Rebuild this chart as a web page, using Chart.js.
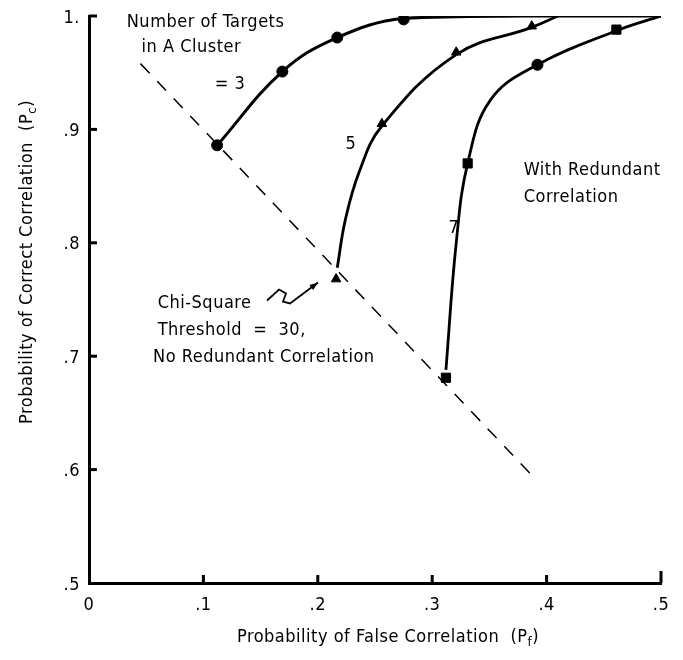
<!DOCTYPE html>
<html>
<head>
<meta charset="utf-8">
<script src="https://cdn.jsdelivr.net/npm/chart.js@4.4.1/dist/chart.umd.min.js"></script>
<style>
html,body{margin:0;padding:0;background:#fff;}
canvas{display:block;}
</style>
</head>
<body>
<canvas id="c" width="683" height="660"></canvas>
<script>
// ---- data ----
const xTicks = [0, 0.1, 0.2, 0.3, 0.4, 0.5];
const xTickLabels = ["0", ".1", ".2", ".3", ".4", ".5"];
const yTicks = [0.5, 0.6, 0.7, 0.8, 0.9, 1.0];
const yTickLabels = [".5", ".6", ".7", ".8", ".9", "1."];

// N = 3 targets (circles)
const n3Markers = [{x:0.112,y:0.886},{x:0.169,y:0.951},{x:0.217,y:0.981},{x:0.275,y:0.997}];
const n3Curve   = [{x:0.112,y:0.886},{x:0.169,y:0.951},{x:0.217,y:0.981},{x:0.275,y:0.998},{x:0.38,y:1.0},{x:0.5,y:1.0}];
// N = 5 targets (triangles)
const n5Markers = [{x:0.216,y:0.768},{x:0.256,y:0.905},{x:0.321,y:0.968},{x:0.387,y:0.991}];
const n5Curve   = [{x:0.217,y:0.778},{x:0.224,y:0.820},{x:0.236,y:0.862},{x:0.256,y:0.903},{x:0.321,y:0.966},{x:0.387,y:0.990},{x:0.41,y:1.0}];
// N = 7 targets (squares)
const n7Markers = [{x:0.312,y:0.681},{x:0.331,y:0.870},{x:0.392,y:0.957},{x:0.461,y:0.988}];
const n7Styles  = ['rect','rect','circle','rect'];
const n7Sizes   = [6.5, 6.5, 5.5, 6.5];
const n7Curve   = [{x:0.312,y:0.688},{x:0.321,y:0.800},{x:0.331,y:0.870},{x:0.351,y:0.926},{x:0.392,y:0.957},{x:0.461,y:0.987},{x:0.5,y:1.0}];
// Chi-square threshold line (no redundant correlation)
const chiLine = [{x:0.045,y:0.958},{x:0.390,y:0.592}];

const FONT = "'DejaVu Sans Condensed','DejaVu Sans',sans-serif";
const FS = 18;

// annotation texts (data coords, left aligned unless noted)
const notes = [
  {t:"Number of Targets", x:0.033, y:0.994, a:'left'},
  {t:"in A Cluster", x:0.046, y:0.972, a:'left'},
  {t:"= 3", x:0.110, y:0.940, a:'left'},
  {t:"5", x:0.229, y:0.887, a:'center'},
  {t:"7", x:0.319, y:0.813, a:'center'},
  {t:"With Redundant", x:0.380, y:0.864, a:'left'},
  {t:"Correlation", x:0.380, y:0.840, a:'left'},
  {t:"Chi-Square", x:0.060, y:0.7465, a:'left'},
  {t:"Threshold  =  30,", x:0.060, y:0.7226, a:'left'},
  {t:"No Redundant Correlation", x:0.056, y:0.6988, a:'left'}
];
const squiggle = [{x:0.1556,y:0.7491},{x:0.1661,y:0.7588},{x:0.1722,y:0.7553},{x:0.1696,y:0.7482},{x:0.1757,y:0.7465},{x:0.2002,y:0.7650}];

const decor = {
  id:'decor',
  afterDraw(chart){
    const ctx = chart.ctx, xs = chart.scales.x, ys = chart.scales.y;
    const x0 = xs.getPixelForValue(0), y0 = ys.getPixelForValue(0.5);
    ctx.save();
    ctx.strokeStyle = '#000'; ctx.lineWidth = 3; ctx.lineCap='butt';
    // inward ticks
    yTicks.forEach(v => { if (v>0.5){ const p = ys.getPixelForValue(v); ctx.beginPath(); ctx.moveTo(x0, p); ctx.lineTo(x0+8, p); ctx.stroke(); }});
    xTicks.forEach(v => { if (v>0){ const p = xs.getPixelForValue(v); ctx.beginPath(); ctx.moveTo(p, y0); ctx.lineTo(p, y0-(v>=0.5?12:8)); ctx.stroke(); }});
    // tick labels
    ctx.fillStyle = '#000';
    ctx.font = FS + "px " + FONT;
    ctx.letterSpacing = "0.5px";
    ctx.textBaseline = 'middle';
    ctx.textAlign = 'right';
    yTicks.forEach((v,i) => ctx.fillText(yTickLabels[i], x0 - 9, ys.getPixelForValue(v) + 2));
    ctx.textAlign = 'center';
    xTicks.forEach((v,i) => ctx.fillText(xTickLabels[i], xs.getPixelForValue(v), y0 + 22));
    // notes
    notes.forEach(n => { ctx.textAlign = n.a; ctx.fillText(n.t, xs.getPixelForValue(n.x), ys.getPixelForValue(n.y)); });
    // squiggle arrow
    ctx.lineWidth = 1.8;
    ctx.beginPath();
    squiggle.forEach((p,i) => { const px = xs.getPixelForValue(p.x), py = ys.getPixelForValue(p.y); i ? ctx.lineTo(px,py) : ctx.moveTo(px,py); });
    ctx.stroke();
    const e = squiggle[squiggle.length-1], s = squiggle[squiggle.length-2];
    const ex = xs.getPixelForValue(e.x), ey = ys.getPixelForValue(e.y);
    const sx = xs.getPixelForValue(s.x), sy = ys.getPixelForValue(s.y);
    const ang = Math.atan2(ey-sy, ex-sx);
    ctx.beginPath();
    ctx.moveTo(ex, ey);
    ctx.lineTo(ex - 9*Math.cos(ang-0.35), ey - 9*Math.sin(ang-0.35));
    ctx.lineTo(ex - 9*Math.cos(ang+0.35), ey - 9*Math.sin(ang+0.35));
    ctx.closePath(); ctx.fill();
    // axis titles
    ctx.textAlign = 'left';
    function subText(parts, cx, cy){
      let w = 0;
      parts.forEach(p => { ctx.font = (p[1] ? "13px " : FS + "px ") + FONT; w += ctx.measureText(p[0]).width; });
      let x = cx - w/2;
      parts.forEach(p => { ctx.font = (p[1] ? "13px " : FS + "px ") + FONT; ctx.fillText(p[0], x, cy + (p[1] ? 6 : 0)); x += ctx.measureText(p[0]).width; });
    }
    subText([["Probability of False Correlation  (P",0],["f",1],[")",0]], 388, 637);
    ctx.save();
    ctx.translate(27, 262);
    ctx.rotate(-Math.PI/2);
    subText([["Probability of Correct Correlation  (P",0],["c",1],[")",0]], 0, 0);
    ctx.restore();
    ctx.restore();
  }
};

const lineDs = (data, dash, width) => ({
  type:'scatter', data, showLine:true, borderColor:'#000', backgroundColor:'#000',
  borderWidth:width, borderDash:dash, pointRadius:0, tension:0.4, fill:false
});
const markDs = (data, style, r) => ({
  type:'scatter', data, showLine:false, pointStyle:style, pointRadius:r, pointHoverRadius:r,
  backgroundColor:'#000', borderColor:'#000', borderWidth:1
});

new Chart(document.getElementById('c'), {
  type:'scatter',
  data:{ datasets:[
    lineDs(chiLine, [13,11], 1.5),
    lineDs(n3Curve, [], 3),
    lineDs(n5Curve, [], 2.8),
    lineDs(n7Curve, [], 2.8),
    markDs(n3Markers, 'circle', 5.5),
    markDs(n5Markers, 'triangle', 5.5),
    markDs(n7Markers, n7Styles, n7Sizes)
  ]},
  options:{
    responsive:false, animation:false, devicePixelRatio:1,
    layout:{ padding:{ top:16, right:22, left:0, bottom:0 } },
    plugins:{ legend:{display:false}, tooltip:{enabled:false} },
    scales:{
      x:{ type:'linear', min:0, max:0.5,
        afterBuildTicks: s => { s.ticks = xTicks.map(v => ({value:v})); },
        afterFit: s => { s.height = 77; },
        grid:{ display:true, drawOnChartArea:false, drawTicks:false },
        border:{ display:true, color:'#000', width:3 },
        ticks:{ display:false }
      },
      y:{ type:'linear', min:0.5, max:1.0,
        afterBuildTicks: s => { s.ticks = yTicks.map(v => ({value:v})); },
        afterFit: s => { s.width = 89; },
        grid:{ display:true, drawOnChartArea:false, drawTicks:false },
        border:{ display:true, color:'#000', width:3 },
        ticks:{ display:false }
      }
    }
  },
  plugins:[decor]
});
</script>
</body>
</html>
